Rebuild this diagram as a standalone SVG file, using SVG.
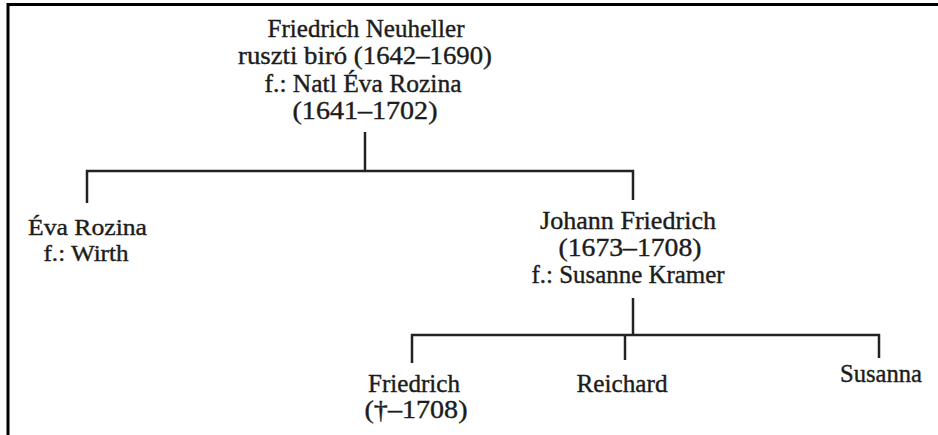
<svg xmlns="http://www.w3.org/2000/svg" width="938" height="435" viewBox="0 0 938 435">
<style>
text{font-family:"Liberation Serif","Times New Roman",serif;font-size:26px;fill:#1c1c1c;text-anchor:middle;stroke:#1c1c1c;stroke-width:0.4}
.sm{font-size:24px}
.ln{stroke:#222;stroke-width:2.5;fill:none}
.frame{stroke:#000;stroke-width:3;fill:none}
</style>
<rect width="938" height="435" fill="#fff"/>
<path class="frame" d="M8,435 V4.5 H938"/>
<g id="connectors">
<path class="ln" d="M365,132 V171"/>
<path class="ln" d="M87,203 V171 H633 V200"/>
<path class="ln" d="M633,298 V335"/>
<path class="ln" d="M412,363 V335 H879 V358"/>
<path class="ln" d="M625,335 V360"/>
</g>
<g id="friedrich-neuheller">
<text x="366" y="37" textLength="197" lengthAdjust="spacingAndGlyphs">Friedrich Neuheller</text>
<text x="365" y="64" textLength="254" lengthAdjust="spacingAndGlyphs">ruszti biró (1642–1690)</text>
<text x="363" y="92" textLength="197" lengthAdjust="spacingAndGlyphs">f.: Natl Éva Rozina</text>
<text x="365" y="119" textLength="145" lengthAdjust="spacingAndGlyphs">(1641–1702)</text>
</g>
<g id="eva-rozina">
<text class="sm" x="87.5" y="235" textLength="119" lengthAdjust="spacingAndGlyphs">Éva Rozina</text>
<text class="sm" x="86" y="261" textLength="85" lengthAdjust="spacingAndGlyphs">f.: Wirth</text>
</g>
<g id="johann-friedrich">
<text x="628" y="229" textLength="176" lengthAdjust="spacingAndGlyphs">Johann Friedrich</text>
<text x="630" y="256" textLength="143" lengthAdjust="spacingAndGlyphs">(1673–1708)</text>
<text x="628" y="283" textLength="193" lengthAdjust="spacingAndGlyphs">f.: Susanne Kramer</text>
</g>
<g id="friedrich">
<text x="414" y="392" textLength="92" lengthAdjust="spacingAndGlyphs">Friedrich</text>
<text x="416" y="418" textLength="103" lengthAdjust="spacingAndGlyphs">(†–1708)</text>
</g>
<g id="reichard">
<text x="622" y="392" textLength="91" lengthAdjust="spacingAndGlyphs">Reichard</text>
</g>
<g id="susanna">
<text x="881" y="382" textLength="82" lengthAdjust="spacingAndGlyphs">Susanna</text>
</g>
</svg>
